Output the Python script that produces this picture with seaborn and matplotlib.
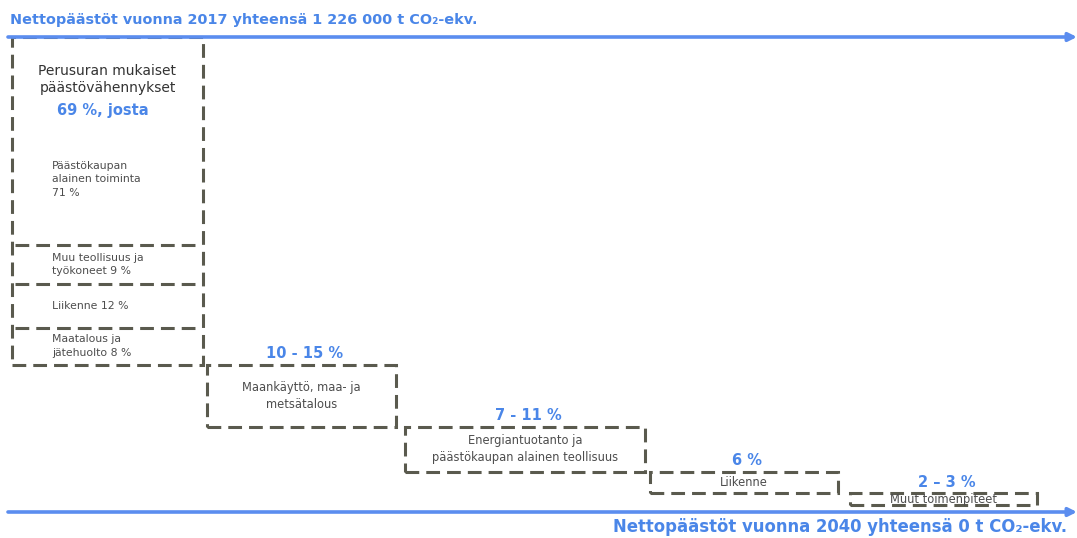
import matplotlib
matplotlib.use("Agg")
import matplotlib.pyplot as plt
import seaborn as sns
import numpy as np

# Datos: osuudet vuoden 2017 nettopäästöistä (%)
otsikko_2017 = "Nettopäästöt vuonna 2017 yhteensä 1 226 000 t CO₂-ekv."
otsikko_2040 = "Nettopäästöt vuonna 2040 yhteensä 0 t CO₂-ekv."

toimet = ["Perusuran mukaiset\npäästövähennykset",
          "Maankäyttö, maa- ja\nmetsätalous",
          "Energiantuotanto ja\npäästökaupan alainen teollisuus",
          "Liikenne",
          "Muut toimenpiteet"]
osuudet = [69, 13, 9.5, 4.6, 2.4]          # laatikoiden korkeus kuvasta luettuna
osuus_tekstit = ["69 %, josta", "10 - 15 %", "7 - 11 %", "6 %", "2 – 3 %"]

# Perusuran sisäinen jako (ylhäältä alas)
perus_osat = ["Päästökaupan\nalainen toiminta\n71 %",
              "Muu teollisuus ja\ntyökoneet 9 %",
              "Liikenne 12 %",
              "Maatalous ja\njätehuolto 8 %"]
perus_korkeudet = [43.7, 8.4, 9.1, 7.8]

# Asettelu (x pikseleinä)
vasen = [12, 207, 405, 650, 850]
leveys = [191, 189, 240, 188, 187]

sininen = "#4a86e8"
harmaa = "#5a5a4e"
teksti = "#4d4d4d"
viiva = (0, (4.5, 2.3))

sns.set_theme(style="white")
plt.rcParams["font.family"] = ["DejaVu Sans"]

fig = plt.figure(figsize=(10.77, 5.38), dpi=100)
ax = fig.add_axes([0, 26 / 538, 1, 475 / 538])
ax.set_xlim(0, 1077)
ax.set_ylim(0, 100)
ax.set_axis_off()

# Vesiputous: jokainen laatikko alkaa edellisen pohjasta
ylat = 100 - np.concatenate([[0], np.cumsum(osuudet)[:-1]])
pohjat = ylat - np.array(osuudet)

ax.bar(vasen, osuudet, width=leveys, bottom=pohjat, align="edge", fill=False,
       edgecolor=harmaa, linewidth=2.2, linestyle=viiva, clip_on=False)

# Perusuran alalaatikoiden väliviivat
p_ylat = 100 - np.concatenate([[0], np.cumsum(perus_korkeudet)[:-1]])
p_pohjat = p_ylat - np.array(perus_korkeudet)
ax.hlines(p_pohjat[:-1], vasen[0] + 3, vasen[0] + leveys[0] - 3, colors=harmaa,
          linewidth=2.2, linestyles=[viiva])

# Nuolet
for y in [100, 0]:
    ax.annotate("", xy=(1077, y), xytext=(8, y),
                arrowprops=dict(arrowstyle="-|>", color="#5b8def", lw=2.6,
                                mutation_scale=12, shrinkA=0, shrinkB=0),
                annotation_clip=False)

ax.text(10, 103.6, otsikko_2017, color=sininen, fontsize=10.4, fontweight="bold",
        ha="left", va="center", clip_on=False)
ax.text(1067, -3.2, otsikko_2040, color=sininen, fontsize=11.9, fontweight="bold",
        ha="right", va="center", clip_on=False)

# Perusuran tekstit
x1 = vasen[0] + leveys[0] / 2
ax.text(x1, 91.1, toimet[0], color="#333333", fontsize=10, ha="center", va="center",
        linespacing=1.3)
ax.text(x1 - 5, 84.6, osuus_tekstit[0], color=sininen, fontsize=10.5, fontweight="bold",
        ha="center", va="center")
for i, (nimi, yl, po) in enumerate(zip(perus_osat, p_ylat, p_pohjat)):
    yy = 70 if i == 0 else (yl + po) / 2
    ax.text(vasen[0] + 40, yy, nimi, color=teksti, fontsize=7.8, ha="left", va="center",
            linespacing=1.45)

# Muut laatikot
for i in range(1, 5):
    xc = vasen[i] + leveys[i] / 2
    ax.text(xc, (ylat[i] + pohjat[i]) / 2, toimet[i], color=teksti, fontsize=8.3,
            ha="center", va="center", linespacing=1.4)
    ax.annotate(osuus_tekstit[i], xy=(xc + 3, ylat[i]), xytext=(0, 8),
                textcoords="offset points", color=sininen, fontsize=10.5,
                fontweight="bold", ha="center", va="center")

fig.savefig("out.png", dpi=100)
